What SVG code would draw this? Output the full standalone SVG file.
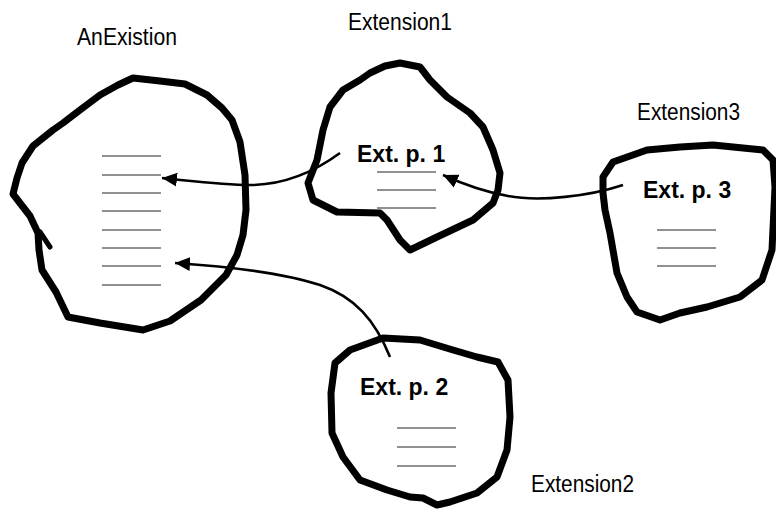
<svg xmlns="http://www.w3.org/2000/svg" width="776" height="514" viewBox="0 0 776 514">
<style>
.blob{fill:none;stroke:#000;stroke-width:7;stroke-linejoin:round;stroke-linecap:round}
.rule{stroke:#222;stroke-width:1}
.conn{fill:none;stroke:#000;stroke-width:2.6}
.lbl{font-family:"Liberation Sans",Arial,sans-serif;font-size:23px;fill:#000}
.ep{font-family:"Liberation Sans",Arial,sans-serif;font-size:23px;font-weight:bold;fill:#000}
</style>
<defs>
<marker id="ah" markerUnits="userSpaceOnUse" markerWidth="16" markerHeight="16" viewBox="0 0 16 16" refX="15" refY="8" orient="auto">
<path d="M0,1 L15,8 L0,15 Z" fill="#000"/>
</marker>
</defs>
<rect width="776" height="514" fill="#fff"/>
<g id="AnExistion">
<path class="blob" d="M133,78 L160,81 L185,84 L207,95 L222,108 L232,120 L240,142 L245,175 L246,210 L243,235 L237,255 L226,275 L201,300 L170,321 L143,330 L100,323 L68,317 L56,292 L42,270 L39,250 L38,233 L30,216 L13,194 L17,178 L22,163 L33,146 L53,130 L63,123 L80,110 L100,95 L118,85 Z"/>
<path class="blob" d="M40,232 L50,247" style="stroke-width:5"/>
<line class="rule" x1="102" y1="156" x2="161" y2="156"/>
<line class="rule" x1="102" y1="175" x2="161" y2="175"/>
<line class="rule" x1="102" y1="193" x2="161" y2="193"/>
<line class="rule" x1="102" y1="211" x2="161" y2="211"/>
<line class="rule" x1="102" y1="230" x2="161" y2="230"/>
<line class="rule" x1="102" y1="248" x2="161" y2="248"/>
<line class="rule" x1="102" y1="266" x2="161" y2="266"/>
<line class="rule" x1="102" y1="285" x2="161" y2="285"/>
<text class="lbl" x="77" y="45" textLength="100" lengthAdjust="spacingAndGlyphs">AnExistion</text>
</g>
<g id="Extension1">
<path class="blob" d="M370,73 L385,66 L400,63 L420,67 L430,80 L447,97 L470,113 L483,127 L493,150 L500,173 L498,190 L493,203 L473,220 L437,237 L410,250 L400,240 L387,220 L380,213 L337,212 L313,200 L308,183 L317,160 L323,130 L330,107 L343,90 L360,80 Z"/>
<text class="ep" x="357" y="162">Ext. p. 1</text>
<line class="rule" x1="377" y1="172" x2="436" y2="172"/>
<line class="rule" x1="377" y1="190" x2="436" y2="190"/>
<line class="rule" x1="377" y1="208" x2="436" y2="208"/>
<text class="lbl" x="348" y="30" textLength="104" lengthAdjust="spacingAndGlyphs">Extension1</text>
</g>
<g id="Extension3">
<path class="blob" d="M603,177 L613,162 L647,150 L680,147 L713,145 L763,150 L773,160 L775,187 L772,250 L762,280 L740,297 L707,307 L680,313 L660,320 L637,312 L627,297 L617,273 L610,233 L605,210 L603,193 Z"/>
<text class="ep" x="643" y="198">Ext. p. 3</text>
<line class="rule" x1="657" y1="230" x2="716" y2="230"/>
<line class="rule" x1="657" y1="248" x2="716" y2="248"/>
<line class="rule" x1="657" y1="266" x2="716" y2="266"/>
<text class="lbl" x="637" y="120" textLength="103" lengthAdjust="spacingAndGlyphs">Extension3</text>
</g>
<g id="Extension2">
<path class="blob" d="M335,363 L350,350 L383,338 L420,340 L453,350 L477,357 L498,362 L508,380 L510,417 L507,450 L497,477 L477,493 L450,502 L437,505 L423,498 L410,497 L387,490 L360,480 L343,457 L332,433 L331,393 Z"/>
<text class="ep" x="360" y="395">Ext. p. 2</text>
<line class="rule" x1="397" y1="428" x2="456" y2="428"/>
<line class="rule" x1="397" y1="447" x2="456" y2="447"/>
<line class="rule" x1="397" y1="466" x2="456" y2="466"/>
<text class="lbl" x="531" y="492" textLength="103" lengthAdjust="spacingAndGlyphs">Extension2</text>
</g>
<g id="connectors">
<path class="conn" marker-end="url(#ah)" d="M340,153 C310,175 280,186 245,185 C215,184 190,181 162,178"/>
<path class="conn" marker-end="url(#ah)" d="M390,357 C375,320 355,297 320,285 C280,272 220,266 175,263"/>
<path class="conn" marker-end="url(#ah)" d="M623,185 C590,196 540,202 508,196 C485,192 465,185 443,175"/>
</g>
</svg>
